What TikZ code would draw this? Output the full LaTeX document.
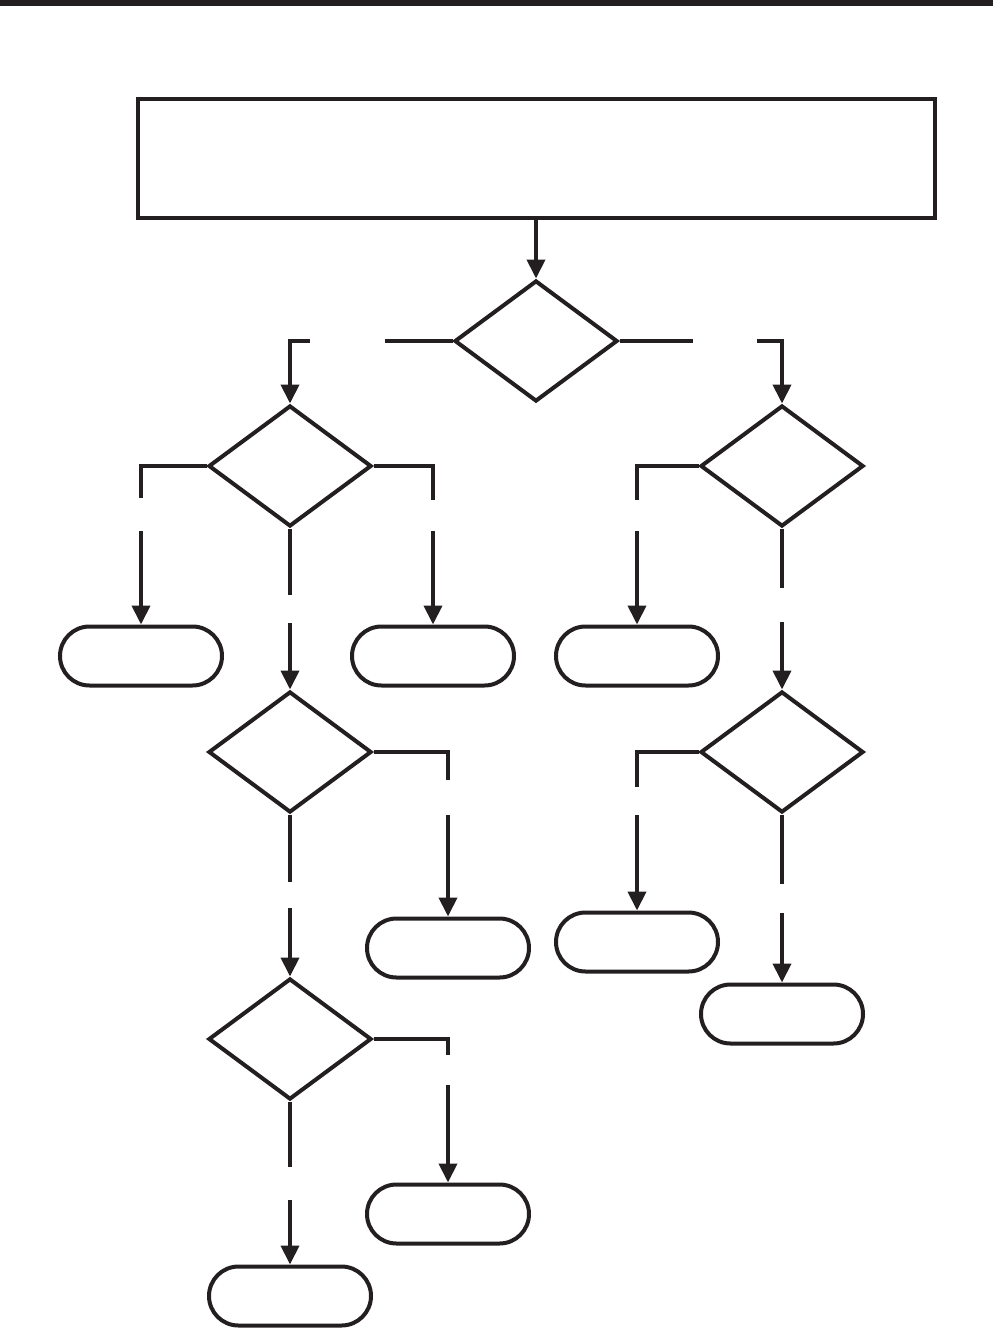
\documentclass[tikz,border=0pt]{standalone}
\usetikzlibrary{shapes.geometric,arrows.meta}
\definecolor{ink}{RGB}{35,31,32}
\begin{document}
\begin{tikzpicture}[x=1pt,y=-1pt, line width=4pt,
  dec/.style={diamond, draw=ink, minimum width=163pt, minimum height=121pt, inner sep=0pt},
  term/.style={draw=ink, rounded corners=29.5pt, minimum width=162pt, minimum height=59pt, inner sep=0pt},
  arr/.style={draw=ink, -{Triangle[length=19pt,width=18pt]}},
  ln/.style={draw=ink}]
\useasboundingbox (0,0) rectangle (993,1330);
\fill[white] (0,0) rectangle (993,1330);
\fill[ink] (0,0) rectangle (993,6);
% nodes
\node[draw=ink, minimum width=797pt, minimum height=119pt, inner sep=0pt] (main) at (536,158.5) {};
\node[dec] (d1) at (536,341) {};
\node[dec] (d2) at (290,466) {};
\node[dec] (d3) at (782,466) {};
\node[dec] (d4) at (290,752) {};
\node[dec] (d5) at (290,1039) {};
\node[dec] (d6) at (782,752) {};
\node[term] (tA) at (141,656) {};
\node[term] (tB) at (433,656) {};
\node[term] (tF) at (637,656) {};
\node[term] (tC) at (448,948) {};
\node[term] (tD) at (448,1214) {};
\node[term] (tE) at (290,1296) {};
\node[term] (tG) at (637,942) {};
\node[term] (tH) at (782,1014) {};
% gap coordinates
\coordinate (g1a) at (385,341); \coordinate (g1b) at (310,341);
\coordinate (g2a) at (693,341); \coordinate (g2b) at (757,341);
\coordinate (g3a) at (141,498); \coordinate (g3b) at (141,531);
\coordinate (g4a) at (433,500); \coordinate (g4b) at (433,531);
\coordinate (g5a) at (290,595); \coordinate (g5b) at (290,623);
\coordinate (g6a) at (637,500); \coordinate (g6b) at (637,531);
\coordinate (g7a) at (782,588); \coordinate (g7b) at (782,622);
\coordinate (g8a) at (448,780); \coordinate (g8b) at (448,815);
\coordinate (g9a) at (290,882); \coordinate (g9b) at (290,908);
\coordinate (g10a) at (448,1055); \coordinate (g10b) at (448,1085);
\coordinate (g11a) at (290,1167); \coordinate (g11b) at (290,1200);
\coordinate (g12a) at (637,787); \coordinate (g12b) at (637,815);
\coordinate (g13a) at (782,884); \coordinate (g13b) at (782,913);
% connectors
\draw[arr] (main.south) -- (d1.north);
\draw[ln] (d1.west) -- (g1a);
\draw[arr] (g1b) -| (d2.north);
\draw[ln] (d1.east) -- (g2a);
\draw[arr] (g2b) -| (d3.north);
\draw[ln] (d2.west) -| (g3a);
\draw[arr] (g3b) -- (tA.north);
\draw[ln] (d2.east) -| (g4a);
\draw[arr] (g4b) -- (tB.north);
\draw[ln] (d2.south) -- (g5a);
\draw[arr] (g5b) -- (d4.north);
\draw[ln] (d3.west) -| (g6a);
\draw[arr] (g6b) -- (tF.north);
\draw[ln] (d3.south) -- (g7a);
\draw[arr] (g7b) -- (d6.north);
\draw[ln] (d4.east) -| (g8a);
\draw[arr] (g8b) -- (tC.north);
\draw[ln] (d4.south) -- (g9a);
\draw[arr] (g9b) -- (d5.north);
\draw[ln] (d5.east) -| (g10a);
\draw[arr] (g10b) -- (tD.north);
\draw[ln] (d5.south) -- (g11a);
\draw[arr] (g11b) -- (tE.north);
\draw[ln] (d6.west) -| (g12a);
\draw[arr] (g12b) -- (tG.north);
\draw[ln] (d6.south) -- (g13a);
\draw[arr] (g13b) -- (tH.north);
\end{tikzpicture}
\end{document}
